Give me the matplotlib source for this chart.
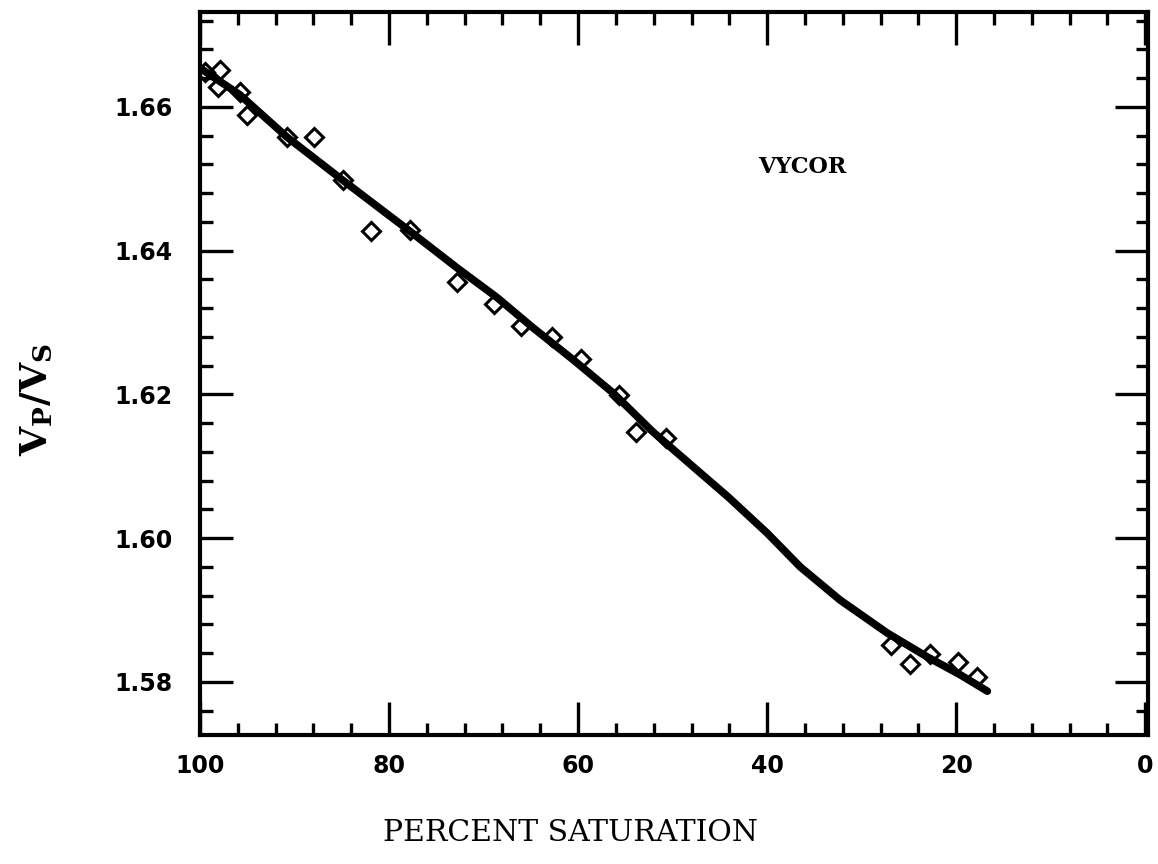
# Vp/Vs versus percent saturation, Vycor

import matplotlib.pyplot as plt
from matplotlib.ticker import MultipleLocator
import matplotlib as mpl

mpl.rcParams['mathtext.fontset'] = 'dejavuserif'

# Measured points (open diamonds)
saturation = [99.5, 97.9, 98.1, 95.8, 95.0, 90.8, 87.9, 84.9, 81.9, 77.8,
              72.8, 68.9, 66.0, 62.8, 59.7, 55.7, 53.9, 50.7,
              26.9, 24.9, 22.8, 19.8, 17.8]
vp_vs = [1.6649, 1.6651, 1.6628, 1.6621, 1.6589, 1.6558, 1.6558, 1.6498, 1.6427, 1.6429,
         1.6357, 1.6326, 1.6295, 1.6280, 1.6249, 1.6199, 1.6147, 1.6139,
         1.5851, 1.5825, 1.5839, 1.5827, 1.5807]

# Fitted curve
fit_sat = [100, 95.8, 90.8, 84.9, 77.8, 72.8, 68.6, 64.8, 60.5, 56.3,
           52.1, 47.8, 44.1, 40.0, 36.5, 32.3, 27.3, 23.1, 19.6, 16.7]
fit_ratio = [1.6654, 1.6617, 1.6558, 1.6498, 1.6427, 1.6376, 1.6335, 1.6293, 1.6248, 1.6202,
             1.6148, 1.6099, 1.6057, 1.6007, 1.5960, 1.5914, 1.5868, 1.5835, 1.5810, 1.5787]

fig = plt.figure(figsize=(11.58, 8.64), dpi=100)
ax = fig.add_axes([0.1727, 0.1493, 0.8187, 0.8368])

ax.plot(saturation, vp_vs, linestyle='none', marker='D', markersize=9,
        markerfacecolor='none', markeredgecolor='black', markeredgewidth=2.2, zorder=2)
ax.plot(fit_sat, fit_ratio, color='black', linewidth=5.5,
        solid_capstyle='round', solid_joinstyle='round', zorder=3)

ax.set_xlim(100, -0.3)
ax.set_ylim(1.5726, 1.6732)

ax.xaxis.set_major_locator(MultipleLocator(20))
ax.xaxis.set_minor_locator(MultipleLocator(4))
ax.yaxis.set_major_locator(MultipleLocator(0.02))
ax.yaxis.set_minor_locator(MultipleLocator(0.004))
ax.yaxis.set_major_formatter(mpl.ticker.FormatStrFormatter('%.2f'))
ax.xaxis.set_major_formatter(mpl.ticker.FormatStrFormatter('%d'))

ax.tick_params(which='both', direction='in', top=True, right=True, width=2.4)
ax.tick_params(which='major', length=24, pad=14)
ax.tick_params(which='minor', length=9)
ax.tick_params(axis='y', which='major', pad=20)
for lab in ax.get_xticklabels() + ax.get_yticklabels():
    lab.set_fontsize(17)
    lab.set_fontweight('bold')

for s in ax.spines.values():
    s.set_linewidth(3)

ax.text(36.3, 1.6517, 'VYCOR', fontsize=16, fontweight='bold',
        family='DejaVu Serif', ha='center', va='center')

fig.text(0.493, 0.036, 'PERCENT SATURATION', fontsize=21.5,
         family='DejaVu Serif', ha='center', va='center')
fig.text(0.032, 0.537, r'$\mathbf{V_P/V_S}$', fontsize=27,
         rotation=90, ha='center', va='center')

fig.savefig('out.png', dpi=100)
